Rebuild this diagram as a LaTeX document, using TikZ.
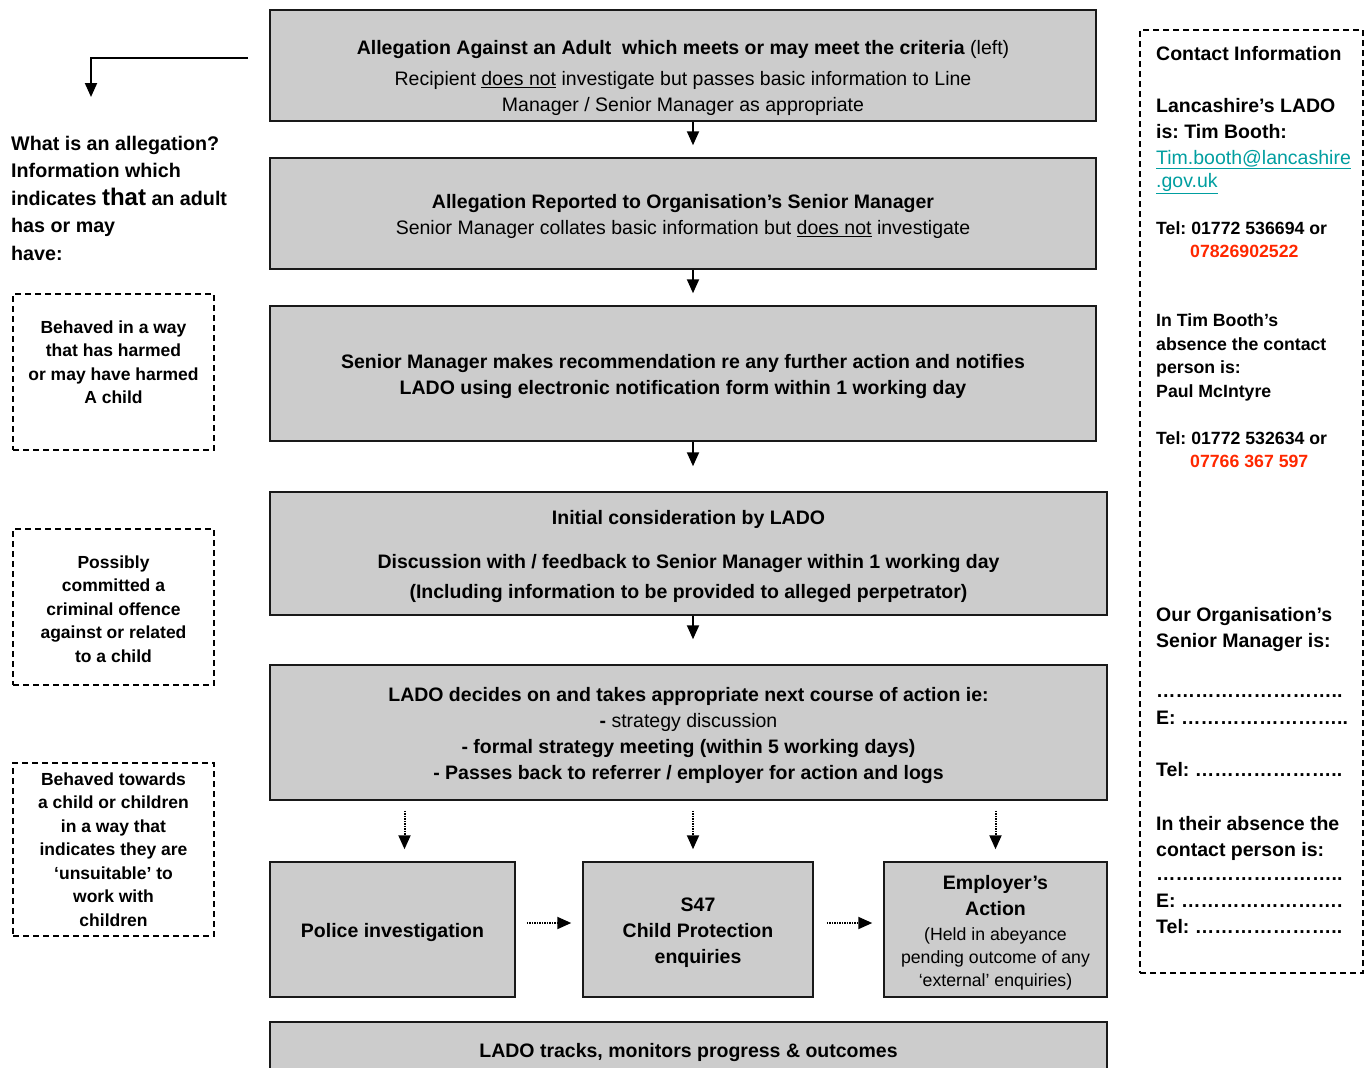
\documentclass[tikz,border=0pt]{standalone}
\usepackage{fontspec}
\setmainfont{Liberation Sans}
\usepackage{xcolor}
\usetikzlibrary{arrows.meta}

\definecolor{boxgray}{RGB}{204,204,204}
\definecolor{mailteal}{RGB}{0,158,160}
\definecolor{phonered}{RGB}{255,40,0}

\newcommand{\boxfont}{\fontsize{19.5}{26}\selectfont}
\newcommand{\smallboxfont}{\fontsize{17.7}{23}\selectfont}
\newcommand{\sidefont}{\bfseries\fontsize{17.5}{23.5}\selectfont}
\newcommand{\contactfont}{\bfseries\fontsize{19.5}{26}\selectfont}
\newcommand{\telfont}{\bfseries\fontsize{17.7}{23.5}\selectfont}
\newcommand{\topstrut}{\rule{0pt}{21pt}}
\frenchspacing

\tikzset{
  flowbox/.style={draw=black!90, line width=1.5pt, fill=boxgray, align=center,
    inner sep=0pt, font=\boxfont},
  criteriabox/.style={draw, line width=1.8pt, dash pattern=on 6pt off 4pt,
    align=center, inner sep=0pt, font=\sidefont, minimum width=201pt},
  contactline/.style={anchor=west, align=left, inner sep=0pt, font=\contactfont},
  solidarrow/.style={-{Triangle[length=14pt,width=12pt]}, line width=2pt},
  dotarrow/.style={solidarrow, dash pattern=on 1.5pt off 1pt},
}

\begin{document}
\begin{tikzpicture}[x=1pt,y=-1pt]
\useasboundingbox (0,0) rectangle (1368,1068);

% flow of the allegation
\node[flowbox, minimum width=826pt, minimum height=111pt] (alleg) at (683,65.5)
  {\rule{0pt}{39pt}\textbf{Allegation Against an Adult\ \ which meets or may meet the criteria} (left)\\[5pt]
   Recipient \underline{does not} investigate but passes basic information to Line\\
   Manager / Senior Manager as appropriate};
\node[flowbox, minimum width=826pt, minimum height=111pt] (report) at (683,213.5)
  {\topstrut\textbf{Allegation Reported to Organisation's Senior Manager}\\
   Senior Manager collates basic information but \underline{does not} investigate};
\node[flowbox, font=\boxfont\bfseries, minimum width=826pt, minimum height=135pt] (recommend) at (683,373.5)
  {\topstrut Senior Manager makes recommendation re any further action and notifies\\
   LADO using electronic notification form within 1 working day};
\node[flowbox, font=\boxfont\bfseries, minimum width=837pt, minimum height=123pt] (initial) at (688.5,553.5)
  {\topstrut Initial consideration by LADO\\[18pt]
   Discussion with / feedback to Senior Manager within 1 working day\\[4pt]
   (Including information to be provided to alleged perpetrator)};
\node[flowbox, minimum width=837pt, minimum height=135pt] (decide) at (688.5,732.5)
  {\topstrut\textbf{LADO decides on and takes appropriate next course of action ie:}\\
   \textbf{-} strategy discussion\\
   \textbf{- formal strategy meeting (within 5 working days)}\\
   \textbf{- Passes back to referrer / employer for action and logs}};
\node[flowbox, font=\boxfont\bfseries, minimum width=245pt, minimum height=135pt] (police) at (392.5,929.5)
  {\topstrut Police investigation};
\node[flowbox, font=\boxfont\bfseries, minimum width=230pt, minimum height=135pt] (sfortyseven) at (698,929.5)
  {\topstrut S47\\Child Protection\\enquiries};
\node[flowbox, minimum width=223pt, minimum height=135pt] (employer) at (995.5,929.5)
  {\topstrut\textbf{Employer's}\\\textbf{Action}\\[-1pt]
   {\smallboxfont (Held in abeyance}\\[-3pt]
   {\smallboxfont pending outcome of any}\\[-3pt]
   {\smallboxfont `external' enquiries)}};
\node[flowbox, font=\boxfont\bfseries, minimum width=837pt, minimum height=54pt] (tracks) at (688.5,1049)
  {\topstrut LADO tracks, monitors progress \& outcomes};

\draw[solidarrow, shorten >=12pt] ([xshift=10pt]alleg.south) -- ([xshift=10pt]report.north);
\draw[solidarrow, shorten >=12pt] ([xshift=10pt]report.south) -- ([xshift=10pt]recommend.north);
\draw[solidarrow, shorten >=25pt] ([xshift=10pt]recommend.south) -- ([xshift=10pt]recommend.south |- initial.north);
\draw[solidarrow, shorten >=25pt] ([xshift=4.5pt]initial.south) -- ([xshift=4.5pt]decide.north);

\draw[dotarrow, shorten <=10pt, shorten >=12pt] ([xshift=12pt]decide.south -| police.north) -- ([xshift=12pt]police.north);
\draw[dotarrow, shorten <=10pt, shorten >=12pt] ([xshift=-5pt]decide.south -| sfortyseven.north) -- ([xshift=-5pt]sfortyseven.north);
\draw[dotarrow, shorten <=10pt, shorten >=12pt] (decide.south -| employer.north) -- (employer.north);
\draw[dotarrow, shorten <=11pt, shorten >=11pt] ([yshift=6.5pt]police.east) -- ([yshift=6.5pt]sfortyseven.west);
\draw[dotarrow, shorten <=13pt, shorten >=11pt] ([yshift=6.5pt]sfortyseven.east) -- ([yshift=6.5pt]employer.west);

% what is an allegation
\node[anchor=west, align=left, inner sep=0pt, font=\bfseries\fontsize{19.7}{27.5}\selectfont] (whatis) at (11,198)
  {What is an allegation?\\Information which\\
   indicates {\fontsize{24}{27.5}\selectfont that} an adult\\has or may\\have:};
\coordinate (allegexit) at (248,58);
\coordinate (whatisentry) at (91,97);
\draw[solidarrow] (allegexit) -| (whatisentry);

\node[criteriabox, minimum height=156pt] (harmed) at (113.5,372)
  {\rule{0pt}{17pt}Behaved in a way\\that has harmed\\or may have harmed\\A child\rule[-24pt]{0pt}{24pt}};
\node[criteriabox, minimum height=156pt] (offence) at (113.5,607)
  {\rule{0pt}{17pt}Possibly\\committed a\\criminal offence\\against or related\\to a child};
\node[criteriabox, minimum height=173pt] (unsuitable) at (113.5,849.5)
  {Behaved towards\\a child or children\\in a way that\\indicates they are\\`unsuitable' to\\work with\\children};

% contact information
\node[draw, line width=1.8pt, dash pattern=on 6pt off 4pt, minimum width=223pt, minimum height=943pt] (contact) at (1251.5,501.5) {};
\node[contactline] (heading) at (1156,54) {Contact Information};
\node[contactline] (lado) at (1156,146)
  {Lancashire's LADO\\is: Tim Booth:\\
   \textcolor{mailteal}{\mdseries\underline{Tim.booth@lancashire}}\\[-3pt]
   \textcolor{mailteal}{\mdseries\underline{.gov.uk}}};
\node[contactline, font=\telfont] (ladotel) at (1156,240)
  {Tel: 01772 536694 or\\[-0.5pt]\hspace*{34pt}\textcolor{phonered}{07826902522}};
\node[contactline, font=\telfont] (deputy) at (1156,391)
  {In Tim Booth's\\absence the contact\\person is:\\Paul McIntyre\\[23.5pt]
   Tel: 01772 532634 or\\\hspace*{34pt}\textcolor{phonered}{07766 367 597}};
\node[contactline] (ourmanager) at (1156,629) {Our Organisation's\\Senior Manager is:};
\node[contactline] (managerdetails) at (1156,735.5)
  {………………………..\\[1pt]E: ……………………..\\[26pt]Tel: …………………..};
\node[contactline] (absence) at (1156,875.5)
  {In their absence the\\contact person is:\\[-2pt]………………………..\\[1pt]E: …………………….\\Tel: …………………..};
\end{tikzpicture}
\end{document}
